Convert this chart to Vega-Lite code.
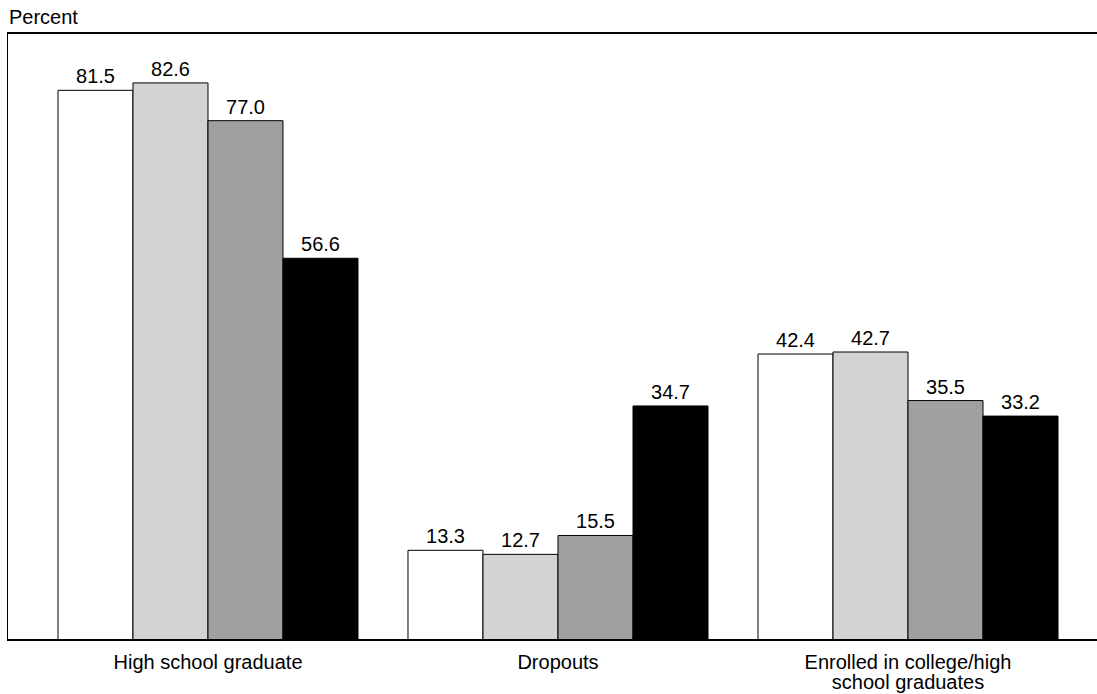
{
  "$schema": "https://vega.github.io/schema/vega-lite/v6.json",
  "width": 1090,
  "height": 607,
  "autosize": {"type": "none"},
  "padding": {"left": 7, "top": 33, "right": 0, "bottom": 54},
  "background": "white",
  "title": {"text": "Percent", "anchor": "start", "frame": "group", "fontSize": 20, "font": "Liberation Sans", "fontWeight": "normal", "color": "black", "offset": 5, "dx": 2},
  "config": {"view": {"stroke": null}, "font": "Liberation Sans"},
  "data": {"values": [
    {"category": "High school graduate", "group": "Total", "value": 81.5},
    {"category": "High school graduate", "group": "White", "value": 82.6},
    {"category": "High school graduate", "group": "Black", "value": 77.0},
    {"category": "High school graduate", "group": "Hispanic", "value": 56.6},
    {"category": "Dropouts", "group": "Total", "value": 13.3},
    {"category": "Dropouts", "group": "White", "value": 12.7},
    {"category": "Dropouts", "group": "Black", "value": 15.5},
    {"category": "Dropouts", "group": "Hispanic", "value": 34.7},
    {"category": "Enrolled in college/high school graduates", "group": "Total", "value": 42.4},
    {"category": "Enrolled in college/high school graduates", "group": "White", "value": 42.7},
    {"category": "Enrolled in college/high school graduates", "group": "Black", "value": 35.5},
    {"category": "Enrolled in college/high school graduates", "group": "Hispanic", "value": 33.2}
  ]},
  "layer": [
    {"mark": {"type": "bar", "stroke": "black", "strokeWidth": 1},
      "encoding": {
        "x": {"field": "category", "type": "nominal", "sort": ["High school graduate", "Dropouts", "Enrolled in college/high school graduates"],
          "scale": {"range": [12, 1090], "paddingInner": 0.142857, "paddingOuter": 0.1114},
          "axis": {"title": null, "ticks": false, "domain": false, "labelAngle": 0, "labelFontSize": 20, "labelColor": "black", "labelPadding": 12, "labelLimit": 0, "labelLineHeight": 20,
            "labelExpr": "datum.value == 'Enrolled in college/high school graduates' ? ['Enrolled in college/high', 'school graduates'] : datum.label"}},
        "xOffset": {"field": "group", "type": "nominal", "sort": ["Total", "White", "Black", "Hispanic"], "scale": {"paddingInner": 0, "paddingOuter": 0}},
        "y": {"field": "value", "type": "quantitative", "scale": {"domain": [0, 90]},
          "axis": {"title": null, "labels": false, "ticks": false, "grid": false, "domainColor": "black", "domainWidth": 1}},
        "fill": {"field": "group", "type": "nominal", "scale": {"domain": ["Total", "White", "Black", "Hispanic"], "range": ["#ffffff", "#d3d3d3", "#a0a0a0", "#000000"]}, "legend": null}
      }},
    {"mark": {"type": "text", "baseline": "bottom", "dy": -3, "fontSize": 20, "color": "black"},
      "encoding": {
        "x": {"field": "category", "type": "nominal", "sort": ["High school graduate", "Dropouts", "Enrolled in college/high school graduates"]},
        "xOffset": {"field": "group", "type": "nominal", "sort": ["Total", "White", "Black", "Hispanic"]},
        "y": {"field": "value", "type": "quantitative"},
        "text": {"field": "value", "type": "quantitative", "format": ".1f"}}},
    {"mark": {"type": "rule", "color": "black", "strokeWidth": 1},
      "encoding": {"y": {"datum": 90}}},
    {"mark": {"type": "rule", "color": "black", "strokeWidth": 1},
      "encoding": {"y": {"datum": 0}}}
  ]
}
